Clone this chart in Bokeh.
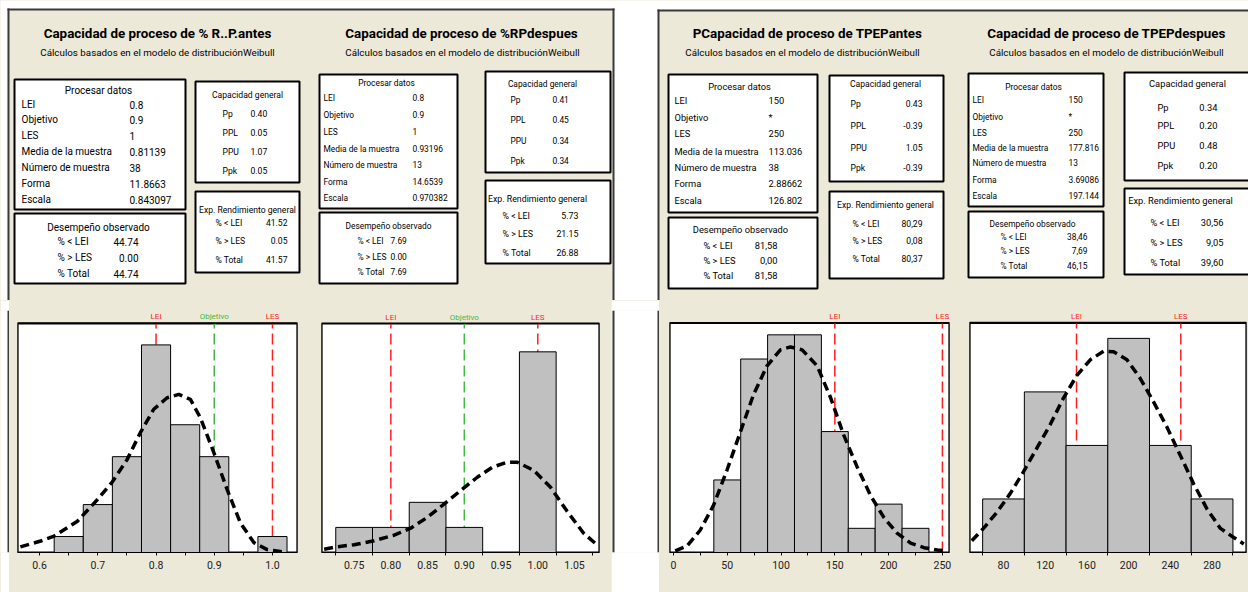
from collections import defaultdict
from bokeh.plotting import figure
from bokeh.models import Range1d, FixedTicker, ColumnDataSource, NumeralTickFormatter
from bokeh.layouts import column, row
from bokeh.embed import file_html
from bokeh.resources import INLINE
from bokeh.core.properties import value

# ---------------- DATA ----------------
titles = ["Capacidad de proceso de % R..P.antes", "Capacidad de proceso de %RPdespues",
          "PCapacidad de proceso de TPEPantes", "Capacidad de proceso de TPEPdespues"]
subtitle = "Cálculos basados en el modelo de distribuciónWeibull"

proc_header = "Procesar datos"
proc_labels = ["LEI", "Objetivo", "LES", "Media de la muestra", "Número de muestra", "Forma", "Escala"]
proc_values = [
    ["0.8", "0.9", "1", "0.81139", "38", "11.8663", "0.843097"],
    ["0.8", "0.9", "1", "0.93196", "13", "14.6539", "0.970382"],
    ["150", "*", "250", "113.036", "38", "2.88662", "126.802"],
    ["150", "*", "250", "177.816", "13", "3.69086", "197.144"],
]
obs_header = "Desempeño observado"
obs_labels = ["% < LEI", "% > LES", "% Total"]
obs_values = [["44.74", "0.00", "44.74"], ["7.69", "0.00", "7.69"],
              ["81,58", "0,00", "81,58"], ["38,46", "7,69", "46,15"]]
cap_header = "Capacidad general"
cap_labels = ["Pp", "PPL", "PPU", "Ppk"]
cap_values = [["0.40", "0.05", "1.07", "0.05"], ["0.41", "0.45", "0.34", "0.34"],
              ["0.43", "-0.39", "1.05", "-0.39"], ["0.34", "0.20", "0.48", "0.20"]]
exp_header = "Exp. Rendimiento general"
exp_labels = ["% < LEI", "% > LES", "% Total"]
exp_values = [["41.52", "0.05", "41.57"], ["5.73", "21.15", "26.88"],
              ["80,29", "0,08", "80,37"], ["30,56", "9,05", "39,60"]]

# histogram A : % R..P.antes
binsA = [0.65, 0.70, 0.75, 0.80, 0.85, 0.90, 0.95, 1.00]
countsA = [1, 3, 6, 13, 8, 6, 0, 1]
bin_widthA = 0.05
curveA_x = [0.567, 0.602, 0.625, 0.665, 0.699, 0.725, 0.750, 0.773, 0.796, 0.819, 0.839,
            0.859, 0.876, 0.899, 0.922, 0.945, 0.968, 0.991, 1.017]
curveA_y = [0.35, 0.72, 1.03, 1.96, 3.3, 4.43, 5.8, 7.5, 8.97, 9.69, 9.9,
            9.59, 8.45, 6.29, 3.95, 1.85, 0.62, 0.18, 0.04]
specsA = [(0.8, "LEI"), (0.9, "Objetivo"), (1.0, "LES")]
ticksA = [0.6, 0.7, 0.8, 0.9, 1.0]
minorA = [0.55, 0.65, 0.75, 0.85, 0.95, 1.05]

# histogram B : %RPdespues
binsB = [0.75, 0.80, 0.85, 0.90, 0.95, 1.00]
countsB = [1, 1, 2, 1, 0, 8]
bin_widthB = 0.05
curveB_x = [0.7092, 0.7274, 0.75, 0.7772, 0.8044, 0.827, 0.8497, 0.8724, 0.895, 0.9177,
            0.9381, 0.9585, 0.9721, 0.9947, 1.0174, 1.04, 1.0627, 1.0808]
curveB_y = [0.13, 0.23, 0.31, 0.47, 0.69, 0.97, 1.40, 1.93, 2.47, 3.0,
            3.4, 3.6, 3.6, 3.27, 2.6, 1.64, 0.76, 0.3]
specsB = [(0.8, "LEI"), (0.9, "Objetivo"), (1.0, "LES")]
ticksB = [0.75, 0.80, 0.85, 0.90, 0.95, 1.00, 1.05]
minorB = [0.725, 0.775, 0.825, 0.875, 0.925, 0.975, 1.025, 1.075]

# histogram C : TPEPantes
binsC = [50, 75, 100, 125, 150, 175, 200, 225]
countsC = [3, 8, 9, 9, 5, 1, 2, 1]
bin_widthC = 25
curveC_x = [1.6, 12.4, 24.8, 37.3, 49.7, 62.1, 74.5, 87.0, 99.4, 108.7, 119.6, 133.5,
            146.0, 158.4, 170.8, 183.2, 195.7, 208.1, 220.5, 232.9, 245.3, 253]
curveC_y = [0.07, 0.26, 0.92, 1.96, 3.40, 4.97, 6.54, 7.72, 8.38, 8.5, 8.38, 7.72,
            6.41, 4.84, 3.53, 2.36, 1.44, 0.79, 0.39, 0.20, 0.10, 0.07]
specsC = [(150, "LEI"), (250, "LES")]
ticksC = [0, 50, 100, 150, 200, 250]
minorC = [25, 75, 125, 175, 225]

# histogram D : TPEPdespues
binsD = [80, 120, 160, 200, 240, 280]
countsD = [1, 3, 2, 4, 2, 1]
bin_widthD = 40
curveD_x = [49.6, 60.8, 73.6, 86.4, 99.2, 112, 124.8, 137.6, 150.4, 163.2, 176, 185.6,
            198.4, 211.2, 224, 236.8, 249.6, 262.4, 275.2, 288, 300.8, 310.4]
curveD_y = [0.22, 0.45, 0.75, 1.1, 1.51, 1.95, 2.39, 2.89, 3.31, 3.6, 3.76, 3.75,
            3.6, 3.25, 2.81, 2.34, 1.81, 1.28, 0.81, 0.45, 0.28, 0.16]
specsD = [(150, "LEI"), (250, "LES")]
ticksD = [80, 120, 160, 200, 240, 280]
minorD = [60, 100, 140, 180, 220, 260, 300]

# ---------------- STYLE / LAYOUT ----------------
FONT = "Roboto"
BEIGE = "#ECE9D8"
EDGE = "#3a3a3a"
RED = "#FF1E1E"
GREEN = "#44B844"
W, H = 1248, 592
TOP_H = 300
BOT_H = H - TOP_H
BAND = 13  # strip above each plot area that holds the LEI / Objetivo / LES labels

LAY = [
    dict(title=(157, 33), sub=(157, 52),
         proc=dict(box=(14, 79, 185, 209), head=(98, 90), ys=[104, 119, 135, 151, 167, 183, 199], lx=21, vx=129, va="left", fs=10),
         obs=dict(box=(14, 213, 185, 283), head=(98, 227), ys=[241, 257, 273], lx=57, vx=138, va="right", fs=10),
         cap=dict(box=(195, 81, 299, 182), head=(247, 94), ys=[113, 132, 151, 170], lx=222, vx=250, va="left", fs=8.6),
         exp=dict(box=(195, 191, 299, 272), head=(247, 209), ys=[222, 240, 259], lx=215, vx=287, va="right", fs=8.6)),
    dict(title=(461, 33), sub=(462, 52),
         proc=dict(box=(319, 74, 457, 208), head=(386, 82), ys=[97, 114, 131, 148, 164, 181, 197], lx=323, vx=412, va="left", fs=8.4),
         obs=dict(box=(319, 212, 457, 283), head=(388, 225), ys=[240, 256, 271], lx=357, vx=390, va="left", fs=8.4),
         cap=dict(box=(485, 71, 610, 172), head=(542, 83), ys=[99, 119, 140, 160], lx=510, vx=552, va="left", fs=8.4),
         exp=dict(box=(485, 180, 610, 263), head=(537, 198), ys=[215, 233, 252], lx=502, vx=578, va="right", fs=8.8)),
    dict(title=(807, 33), sub=(802, 52),
         proc=dict(box=(668, 74, 817, 212), head=(739, 86), ys=[100, 117, 133, 151, 167, 183, 200], lx=674, vx=768, va="left", fs=9.3),
         obs=dict(box=(668, 217, 817, 288), head=(740, 229), ys=[245, 260, 275], lx=703, vx=777, va="right", fs=9.3),
         cap=dict(box=(829, 75, 943, 181), head=(885, 83), ys=[103, 125, 147, 167], lx=850, vx=922, va="right", fs=8.6),
         exp=dict(box=(829, 191, 943, 278), head=(885, 204), ys=[223, 240, 258], lx=852, vx=922, va="right", fs=8.6)),
    dict(title=(1106, 33), sub=(1106, 52),
         proc=dict(box=(968, 73, 1103, 206), head=(1033, 86), ys=[99, 116, 132, 147, 162, 179, 195], lx=972, vx=1068, va="left", fs=8.4),
         obs=dict(box=(968, 211, 1103, 277), head=(1032, 223), ys=[236, 250, 265], lx=1000, vx=1087, va="right", fs=8.4),
         cap=dict(box=(1124, 72, 1252, 180), head=(1187, 83), ys=[107, 125, 145, 165], lx=1157, vx=1217, va="right", fs=9.3),
         exp=dict(box=(1124, 188, 1252, 274), head=(1180, 200), ys=[222, 242, 262], lx=1150, vx=1223, va="right", fs=9.3)),
]

# ---------------- TOP FIGURE (titles + tables) ----------------
top = figure(width=W, height=TOP_H, x_range=Range1d(0, W), y_range=Range1d(TOP_H, 0),
             toolbar_location=None, output_backend="svg", min_border=0, title=None,
             x_axis_location=None, y_axis_location=None)
top.grid.visible = False
top.outline_line_color = None
top.background_fill_color = "white"
top.border_fill_color = "white"

# panel backgrounds
top.quad(left=[7, 658], right=[613, W], top=[9, 10], bottom=[TOP_H, TOP_H],
         fill_color=BEIGE, line_color=None)
# panel borders
top.quad(left=[7, 7, 612, 657, 657], right=[614, 9, 614, W, 659],
         top=[8, 8, 8, 9, 9], bottom=[10, TOP_H, TOP_H, 11, TOP_H],
         fill_color=EDGE, line_color=None)

texts = []


def T(x, y, s, size, align="left", bold=False):
    texts.append((x, y, s, size, align, bold))


boxes = dict(left=[], right=[], top=[], bottom=[])
tables = [("proc", proc_header, proc_labels, proc_values),
          ("obs", obs_header, obs_labels, obs_values),
          ("cap", cap_header, cap_labels, cap_values),
          ("exp", exp_header, exp_labels, exp_values)]

for i, L in enumerate(LAY):
    T(L["title"][0], L["title"][1], titles[i], 13.4, "center", True)
    T(L["sub"][0], L["sub"][1], subtitle, 9.8, "center")
    for key, header, labels, vals in tables:
        t = L[key]
        x0, y0, x1, y1 = t["box"]
        boxes["left"].append(x0); boxes["right"].append(x1)
        boxes["top"].append(y0); boxes["bottom"].append(y1)
        T(t["head"][0], t["head"][1], header, t["fs"], "center")
        for lab, v, y in zip(labels, vals[i], t["ys"]):
            T(t["lx"], y, lab, t["fs"], "left")
            T(t["vx"], y, v, t["fs"], t["va"])

top.quad(left="left", right="right", top="top", bottom="bottom", source=ColumnDataSource(boxes),
         fill_color="white", line_color="black", line_width=2)

groups = defaultdict(lambda: dict(x=[], y=[], text=[]))
for x, y, s, size, align, bold in texts:
    g = groups[(size, align, bold)]
    g["x"].append(x); g["y"].append(y); g["text"].append(s)
for (size, align, bold), g in groups.items():
    top.text(x="x", y="y", text="text", source=ColumnDataSource(g),
             text_font=value(FONT), text_font_size=value(f"{size}px"),
             text_align=align, text_baseline="middle",
             text_font_style="bold" if bold else "normal", text_color="black")


# ---------------- HISTOGRAMS ----------------
def hist(width, borders, xr, ymax, bins, counts, bw, cx, cy, specs, ticks, minor, fmt, major_out):
    l, r, t, b = borders
    plot_h = BOT_H - t - b
    ytop = ymax * (plot_h + BAND) / plot_h  # extra band above the plot area for the labels
    p = figure(width=width, height=BOT_H, x_range=Range1d(*xr), y_range=Range1d(0, ytop),
               toolbar_location=None, output_backend="svg", y_axis_location=None, title=None,
               min_border_left=l, min_border_right=r, min_border_top=t - BAND, min_border_bottom=b)
    p.background_fill_color = BEIGE
    p.border_fill_color = BEIGE
    p.outline_line_color = None
    p.grid.visible = False
    # white plot area with black frame
    p.quad(left=[xr[0]], right=[xr[1]], bottom=[0], top=[ymax], fill_color="white",
           line_color="black", line_width=2.2)
    for sx, name in specs:
        col = GREEN if name == "Objetivo" else RED
        p.segment(x0=[sx], y0=[0], x1=[sx], y1=[ymax], line_color=col, line_width=1.5, line_dash="11 5")
        p.text(x=[sx], y=[(ymax + ytop) / 2], text=[name], text_align="center", text_baseline="middle",
               text_font=value(FONT), text_font_size=value("8px"), text_color=col)
    p.vbar(x=bins, width=bw, top=counts, bottom=0, fill_color="#C0C0C0", line_color="black", line_width=1)
    p.line(cx, cy, line_color="black", line_width=3.5, line_dash="9 5")
    p.quad(left=[xr[0]], right=[xr[1]], bottom=[0], top=[ymax], fill_color=None,
           line_color="black", line_width=1.2)
    ax = p.xaxis[0]
    ax.ticker = FixedTicker(ticks=ticks, minor_ticks=minor)
    ax.formatter = NumeralTickFormatter(format=fmt)
    ax.axis_line_color = "black"
    ax.major_tick_in = 0
    ax.major_tick_out = major_out
    ax.minor_tick_in = 0
    ax.minor_tick_out = 3
    ax.major_tick_line_color = "black"
    ax.minor_tick_line_color = "black"
    ax.major_label_standoff = 5
    ax.major_label_text_font = FONT
    ax.major_label_text_font_size = "10.5px"
    ax.major_label_text_color = "#222222"
    return p


hA = hist(300, (8, 12, 20, 40), (0.562, 1.043), 14.35, binsA, countsA, bin_widthA,
          curveA_x, curveA_y, specsA, ticksA, minorA, "0.0", 3)
hB = hist(302, (12, 12, 23, 40), (0.7056, 1.084), 9.13, binsB, countsB, bin_widthB,
          curveB_x, curveB_y, specsB, ticksB, minorB, "0.00", 0)
hC = hist(299, (10, 9, 14, 39), (-3.7, 256.6), 9.49, binsC, countsC, bin_widthC,
          curveC_x, curveC_y, specsC, ticksC, minorC, "0", 3)
hD = hist(290, (11, 2, 14, 36), (47.4, 313), 4.29, binsD, countsD, bin_widthD,
          curveD_x, curveD_y, specsD, ticksD, minorD, "0", 0)


def plain(width, quads):
    p = figure(width=width, height=BOT_H, x_range=Range1d(0, width), y_range=Range1d(0, 1),
               toolbar_location=None, output_backend="svg", min_border=0, title=None,
               x_axis_location=None, y_axis_location=None)
    p.grid.visible = False
    p.outline_line_color = None
    p.background_fill_color = "white"
    p.border_fill_color = "white"
    for x0, x1, c in quads:
        p.quad(left=[x0], right=[x1], top=[1], bottom=[0], fill_color=c, line_color=None)
    return p


strip = plain(9, [(7, 9, EDGE)])
gap = plain(48, [(0, 1, BEIGE), (1, 3, EDGE), (46, 48, EDGE)])

bottom = row(strip, hA, hB, gap, hC, hD, styles={"background-color": BEIGE})
layout = column(top, bottom, styles={"background-color": BEIGE})
open("out.html", "w").write(file_html(layout, INLINE))
